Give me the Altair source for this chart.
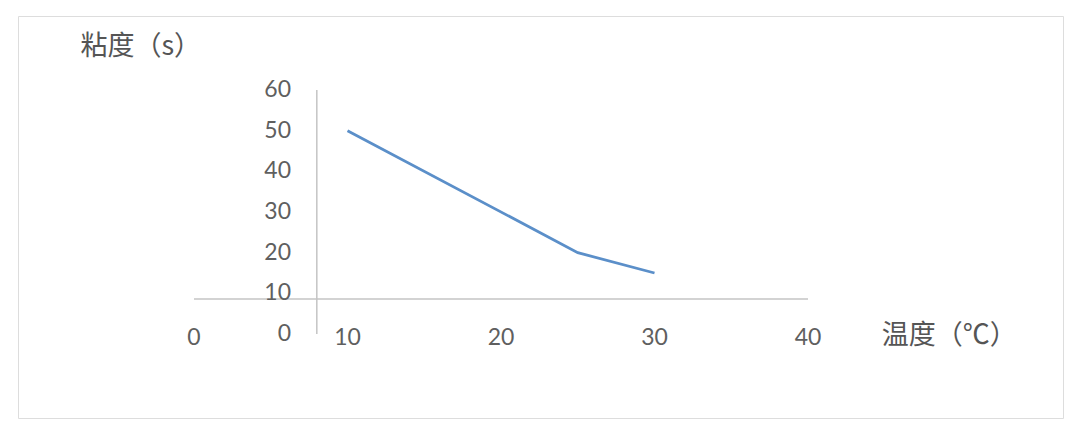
import altair as alt
import pandas as pd

# data
temps = [10, 25, 30]
visc = [50, 20, 15]
x_ticks = [0, 10, 20, 30, 40]
y_ticks = [0, 10, 20, 30, 40, 50, 60]
x_title = "温度（℃）"
y_title = "粘度（s）"

line_df = pd.DataFrame({"t": temps, "v": visc})
xt_df = pd.DataFrame({"t": x_ticks, "lab": [str(v) for v in x_ticks]})
yt_df = pd.DataFrame({"v": y_ticks, "lab": [str(v) for v in y_ticks]})
xaxis_df = pd.DataFrame({"t": [0], "t2": [40], "v": [8.6]})
yaxis_df = pd.DataFrame({"t": [8], "v": [0], "v2": [60]})
titles_df = pd.DataFrame({"t": [-7.4, 44.8], "v": [70.6, -0.5], "lab": [y_title, x_title]})

xs = alt.Scale(domain=[-11.466, 56.612], nice=False, zero=False)
ys = alt.Scale(domain=[-20.65, 78.19], nice=False, zero=False)
X = lambda f: alt.X(f, type="quantitative", scale=xs, axis=None)
Y = lambda f: alt.Y(f, type="quantitative", scale=ys, axis=None)

axis_color = "#c4c4c4"
text_color = "#5f5f5f"
font = "Lato"

x_line = alt.Chart(xaxis_df).mark_rule(color=axis_color, strokeWidth=1.5).encode(
    x=X("t"), x2="t2", y=Y("v"))
y_line = alt.Chart(yaxis_df).mark_rule(color=axis_color, strokeWidth=1.5).encode(
    x=X("t"), y=Y("v"), y2="v2")

series = alt.Chart(line_df).mark_line(color="#5b8fc9", strokeWidth=2.8).encode(
    x=X("t"), y=Y("v"))

x_labels = alt.Chart(xt_df).mark_text(
    font=font, fontSize=23, color=text_color, baseline="middle", align="center"
).encode(x=X("t"), y=alt.value(322), text="lab:N")

y_labels = alt.Chart(yt_df).mark_text(
    font=font, fontSize=23, color=text_color, baseline="middle", align="right"
).encode(x=alt.value(273), y=Y("v"), text="lab:N")

titles = alt.Chart(titles_df).mark_text(
    font="Noto Sans CJK SC", fontSize=27, color="#555555", baseline="middle", align="left"
).encode(x=X("t"), y=Y("v"), text="lab:N")

chart = alt.layer(x_line, y_line, series, x_labels, y_labels, titles).properties(
    width=1045, height=402,
    autosize=alt.AutoSizeParams(type="none"),
    padding={"left": 10, "top": 8, "right": 9, "bottom": 4},
).configure_view(stroke="#adbccb", strokeWidth=1.2).configure(background="white")

chart.save("out.html", embed_options={"renderer": "svg", "actions": False})
